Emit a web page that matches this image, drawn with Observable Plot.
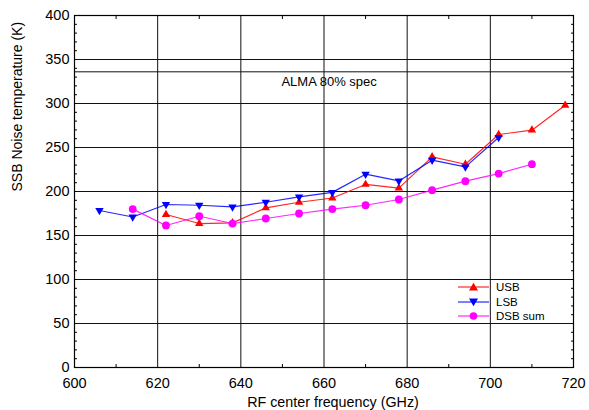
<!DOCTYPE html>
<html>
<head>
<meta charset="utf-8">
<script src="https://cdn.jsdelivr.net/npm/d3@7"></script>
<script src="https://cdn.jsdelivr.net/npm/@observablehq/plot@0.6"></script>
<style>
  html, body { margin: 0; padding: 0; background: #fff; }
  #chart { position: relative; width: 589px; height: 410px; overflow: hidden;
           font-family: "Liberation Sans", Arial, Helvetica, sans-serif; }
  #legend { position: absolute; left: 458px; top: 280px; font-size: 11.5px; color: #000; }
  #legend .row { display: flex; align-items: center; height: 14.5px; }
  #legend svg { display: block; margin-right: 7px; }
</style>
</head>
<body>
<div id="chart"></div>
<script>
// RF centre frequencies (GHz) for each sideband measurement
const usbFreq = [622, 630, 638, 646, 654, 662, 670, 678, 686, 694, 702, 710, 718];
const lsbFreq = [606, 614, 622, 630, 638, 646, 654, 662, 670, 678, 686, 694, 702];
const dsbFreq = [614, 622, 630, 638, 646, 654, 662, 670, 678, 686, 694, 702, 710];

// SSB noise temperatures (K)
const usbTemp = [173.9, 163.6, 164.3, 181.4, 187.8, 192.6, 208.0, 203.8, 239.3, 231.0, 264.8, 269.7, 298.0];
const lsbTemp = [178.4, 171.0, 185.2, 184.4, 182.5, 187.8, 193.9, 199.0, 219.7, 212.0, 235.6, 228.0, 261.4];
const dsbTemp = [180.0, 161.4, 171.9, 163.6, 169.3, 175.0, 180.0, 184.4, 190.9, 201.5, 211.7, 220.4, 231.0];

// Axes and grid
const xTicks = [600, 620, 640, 660, 680, 700, 720];
const yTicks = [0, 50, 100, 150, 200, 250, 300, 350, 400];
const xMinor = [610, 630, 650, 670, 690, 710];
const yMinor = d3.range(0, 401, 10);
const xGrid = [620, 640, 660, 680, 700];
const yGrid = [50, 100, 150, 200, 250, 300, 350];

// Specification limit
const specLevel = 336;
const specLabel = "ALMA 80% spec";
const specLabelFreq = 650;

const xLabel = "RF center frequency (GHz)";
const yLabel = "SSB Noise temperature (K)";

const series = [
  {name: "USB", freq: usbFreq, temp: usbTemp, color: "#ff0000", symbol: "up"},
  {name: "LSB", freq: lsbFreq, temp: lsbTemp, color: "#0000ff", symbol: "down"},
  {name: "DSB sum", freq: dsbFreq, temp: dsbTemp, color: "#ff00ff", symbol: "circle"}
];

// Triangle symbols (centroid at origin)
const triUp = {
  draw(context, size) {
    const h = Math.sqrt(size / Math.sqrt(3)) * Math.sqrt(3);
    const w = 2 * h / Math.sqrt(3);
    context.moveTo(0, -2 * h / 3);
    context.lineTo(w / 2, h / 3);
    context.lineTo(-w / 2, h / 3);
    context.closePath();
  }
};
const triDown = {
  draw(context, size) {
    const h = Math.sqrt(size / Math.sqrt(3)) * Math.sqrt(3);
    const w = 2 * h / Math.sqrt(3);
    context.moveTo(0, 2 * h / 3);
    context.lineTo(w / 2, -h / 3);
    context.lineTo(-w / 2, -h / 3);
    context.closePath();
  }
};
const symbolOf = (s) => s === "up" ? triUp : s === "down" ? triDown : "circle";

const seriesMarks = series.flatMap(s => {
  const rows = s.freq.map((f, i) => ({f, t: s.temp[i]}));
  return [
    Plot.line(rows, {x: "f", y: "t", stroke: s.color, strokeWidth: 1.2, strokeOpacity: 0.85}),
    Plot.dot(rows, {x: "f", y: "t", fill: s.color, stroke: "none",
      symbol: symbolOf(s.symbol), r: s.symbol === "circle" ? 3.9 : 3.1})
  ];
});

const plot = Plot.plot({
  width: 589,
  height: 410,
  marginLeft: 74,
  marginRight: 16,
  marginTop: 15,
  marginBottom: 43,
  style: {fontFamily: '"Liberation Sans", Arial, Helvetica, sans-serif', fontSize: "14px", color: "#000", background: "#fff"},
  x: {domain: [600, 720]},
  y: {domain: [0, 400]},
  marks: [
    Plot.ruleX(xGrid, {stroke: "#111", strokeWidth: 1}),
    Plot.ruleY(yGrid, {stroke: "#111", strokeWidth: 1}),
    Plot.ruleY([specLevel], {stroke: "#111", strokeWidth: 1}),
    Plot.text([specLabel], {x: () => specLabelFreq, y: () => specLevel, textAnchor: "start",
      lineAnchor: "top", dy: 5, dx: -1, fontSize: 13}),
    // minor ticks pointing into the frame
    Plot.axisY(yMinor, {anchor: "left", tickSize: 3, dx: 3, text: null, label: null, stroke: "#000"}),
    Plot.axisY(yMinor, {anchor: "right", tickSize: 3, dx: -3, text: null, label: null, stroke: "#000"}),
    Plot.axisX(xMinor, {anchor: "bottom", tickSize: 3, dy: -3, text: null, label: null, stroke: "#000"}),
    Plot.axisX(xMinor, {anchor: "top", tickSize: 3, dy: 3, text: null, label: null, stroke: "#000"}),
    // labelled axes
    Plot.axisY(yTicks, {anchor: "left", tickSize: 0, tickPadding: 5, label: null, fontSize: 14.5}),
    Plot.axisX(xTicks, {anchor: "bottom", tickSize: 0, tickPadding: 10, label: null, fontSize: 14.5}),
    Plot.text([yLabel], {frameAnchor: "left", rotate: -90, dx: -57, fontSize: 14}),
    Plot.text([xLabel], {frameAnchor: "bottom", dy: 39.5, dx: 9, fontSize: 14.3}),
    Plot.frame({stroke: "#000", strokeWidth: 1.2}),
    ...seriesMarks
  ]
});

const chart = document.getElementById("chart");
chart.appendChild(plot);

// Legend
const legend = document.createElement("div");
legend.id = "legend";
legend.innerHTML = series.map(s => {
  let marker;
  if (s.symbol === "up") marker = `<path d="M15.5,-4.2L20,3.6L11,3.6Z" fill="${s.color}"/>`;
  else if (s.symbol === "down") marker = `<path d="M15.5,4.2L20,-3.6L11,-3.6Z" fill="${s.color}"/>`;
  else marker = `<circle cx="15.5" cy="0" r="3.8" fill="${s.color}"/>`;
  return `<div class="row"><svg width="31" height="12" viewBox="0 -6 31 12">
    <line x1="0" x2="31" y1="0" y2="0" stroke="${s.color}" stroke-width="1.2" stroke-opacity="0.85"/>${marker}</svg>
    <span>${s.name}</span></div>`;
}).join("");
chart.appendChild(legend);
</script>
</body>
</html>
